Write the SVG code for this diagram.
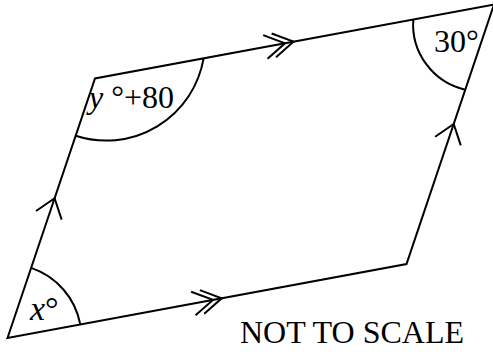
<svg xmlns="http://www.w3.org/2000/svg" width="493" height="352" viewBox="0 0 493 352">
<style>
.ln{fill:none;stroke:#000;stroke-width:2;stroke-linejoin:miter;stroke-linecap:butt}
.t{font-family:"Liberation Serif","Times New Roman",serif;font-size:32px;fill:#000}
.i{font-style:italic}
</style>
<rect width="493" height="352" fill="#fff"/>
<g id="shape">
<polygon class="ln" points="7.5,338 95,78.5 494,4.5 406.5,264"/>
</g>
<g id="marks">
<polyline class="ln" points="263.15,35.11 285,43.26 267.53,58.71"/>
<polyline class="ln" points="271.65,33.53 293.5,41.68 276.03,57.13"/>
<polyline class="ln" points="191.15,291.73 213,299.88 195.53,315.33"/>
<polyline class="ln" points="199.85,290.12 221.7,298.27 204.23,313.72"/>
<polyline class="ln" points="435.16,136.74 453.7,124 460.74,145.36"/>
<polyline class="ln" points="36.06,211.04 54.6,198.3 61.64,219.66"/>
</g>
<g id="angles">
<path class="ln" d="M31.1,267.9 A74,74 0 0 1 80.3,324.5"/>
<path class="ln" d="M75.6,135.8 A99,99 0 0 0 203.6,58.4"/>
<path class="ln" d="M413.3,19.5 A67,67 0 0 0 465.2,89.7"/>
</g>
<g id="labels">
<text class="t" x="30" y="320" style="font-size:34px"><tspan class="i">x</tspan>°</text>
<text class="t" x="89" y="108"><tspan class="i">y</tspan> °+80</text>
<text class="t" x="434" y="52">30°</text>
<text class="t" x="240" y="343">NOT TO SCALE</text>
</g>
</svg>
